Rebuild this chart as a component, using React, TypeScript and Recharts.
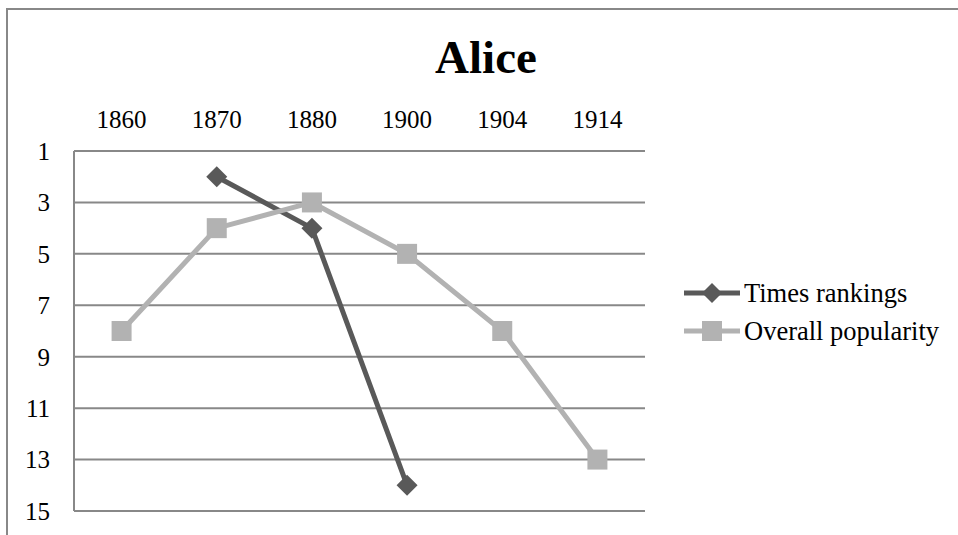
import React from 'react';
import { LineChart, Line, XAxis, YAxis, CartesianGrid } from 'recharts';

const categories = ['1860', '1870', '1880', '1900', '1904', '1914'];
const timesRankings: (number | null)[] = [null, 2, 4, 14, null, null];
const overallPopularity: (number | null)[] = [8, 4, 3, 5, 8, 13];
const yTicks = [1, 3, 5, 7, 9, 11, 13, 15];
const seriesNames = ['Times rankings', 'Overall popularity'];

const data = categories.map((c, i) => ({
  year: c,
  times: timesRankings[i],
  overall: overallPopularity[i],
}));

const DARK = '#595959';
const LIGHT = '#b2b2b2';
const GRID = '#888888';
const FONT = '"Liberation Serif", "Times New Roman", serif';

const Diamond = (props: any) => {
  const { cx, cy, value } = props;
  if (value == null || cx == null || cy == null) return <g />;
  const r = 10.5;
  return (
    <polygon
      points={`${cx},${cy - r} ${cx + r},${cy} ${cx},${cy + r} ${cx - r},${cy}`}
      fill={DARK}
      stroke="none"
    />
  );
};

const Square = (props: any) => {
  const { cx, cy, value } = props;
  if (value == null || cx == null || cy == null) return <g />;
  const r = 10;
  return <rect x={cx - r} y={cy - r} width={2 * r} height={2 * r} fill={LIGHT} stroke="none" />;
};

export default function App() {
  return (
    <div
      style={{
        position: 'absolute',
        left: 0,
        top: 0,
        width: 958,
        height: 535,
        overflow: 'hidden',
        background: '#fff',
        fontFamily: FONT,
      }}
    >
      <div style={{ position: 'absolute', left: 6, top: 8, width: 2, height: 600, background: GRID }} />
      <div style={{ position: 'absolute', left: 6, top: 8, width: 1000, height: 2, background: GRID }} />
      <div
        style={{
          position: 'absolute',
          left: 386,
          width: 200,
          top: 29,
          textAlign: 'center',
          fontSize: 47,
          fontWeight: 'bold',
          lineHeight: '56px',
          color: '#000',
          fontFamily: FONT,
        }}
      >
        Alice
      </div>
      <div style={{ position: 'absolute', left: 0, top: 0 }}>
        <LineChart
          width={958}
          height={535}
          data={data}
          margin={{ top: 0, right: 313, bottom: 24, left: 0 }}
        >
          <CartesianGrid horizontal vertical={false} stroke={GRID} strokeWidth={2} />
          <XAxis
            dataKey="year"
            orientation="top"
            height={151}
            scale="band"
            axisLine={false}
            tickLine={false}
            tickSize={0}
            tickMargin={23}
            interval={0}
            tick={{ fill: '#000', fontSize: 25, fontFamily: FONT }}
          />
          <YAxis
            reversed
            domain={[1, 15]}
            ticks={yTicks}
            width={74}
            interval={0}
            axisLine={{ stroke: GRID, strokeWidth: 2 }}
            tickLine={false}
            tickSize={0}
            tickMargin={24}
            tick={{ fill: '#000', fontSize: 25, fontFamily: FONT }}
          />
          <Line
            dataKey="times"
            name={seriesNames[0]}
            stroke={DARK}
            strokeWidth={5}
            dot={<Diamond />}
            activeDot={false}
            isAnimationActive={false}
            connectNulls={false}
          />
          <Line
            dataKey="overall"
            name={seriesNames[1]}
            stroke={LIGHT}
            strokeWidth={5}
            dot={<Square />}
            activeDot={false}
            isAnimationActive={false}
          />
        </LineChart>
      </div>
      <div style={{ position: 'absolute', left: 684, top: 274 }}>
        {seriesNames.map((name, i) => (
          <div key={name} style={{ display: 'flex', alignItems: 'center', height: 38 }}>
            <svg width={58} height={24} style={{ display: 'block' }}>
              <line x1={0} y1={12} x2={56} y2={12} stroke={i === 0 ? DARK : LIGHT} strokeWidth={5} />
              {i === 0 ? (
                <polygon points="28,2 38,12 28,22 18,12" fill={DARK} />
              ) : (
                <rect x={18} y={2} width={20} height={20} fill={LIGHT} />
              )}
            </svg>
            <span style={{ fontSize: 26.5, color: '#000', marginLeft: 2, lineHeight: '38px', fontFamily: FONT }}>
              {name}
            </span>
          </div>
        ))}
      </div>
    </div>
  );
}
